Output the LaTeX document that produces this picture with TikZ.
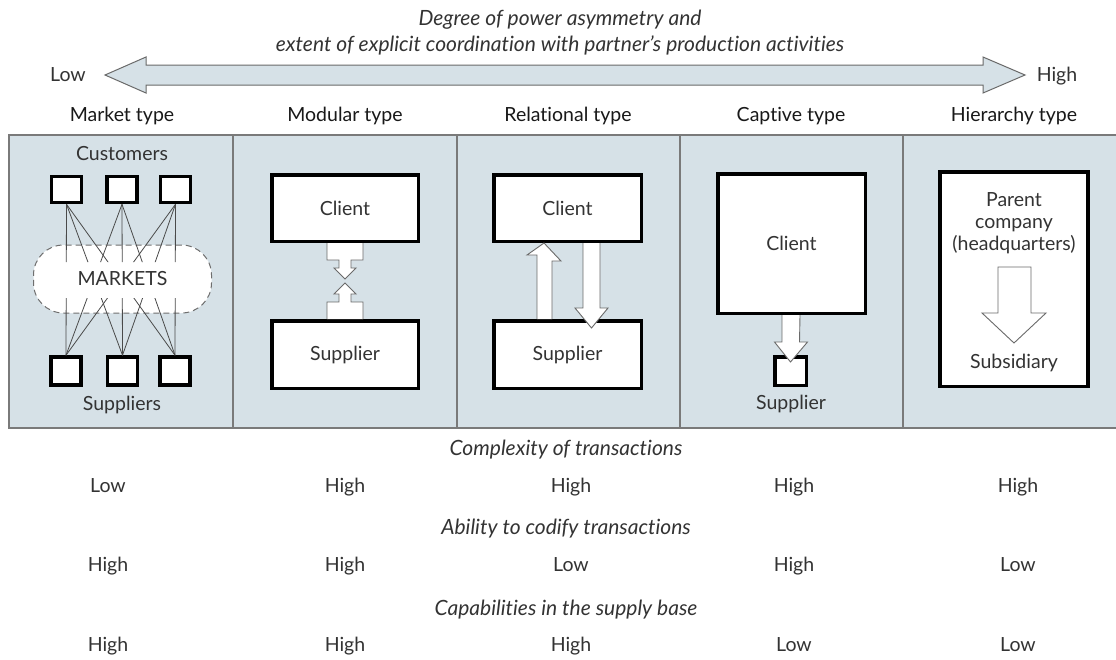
\documentclass[tikz,border=0pt]{standalone}
\usepackage{fontspec}
\setmainfont{Lato}[Ligatures=NoCommon]
\usetikzlibrary{calc}
\definecolor{panelfill}{HTML}{D6E1E7}
\definecolor{divgray}{HTML}{7A7A7A}
\definecolor{arrgray}{HTML}{6A6A6A}
\definecolor{txt}{HTML}{333333}
\definecolor{linegray}{HTML}{4A4A4A}
\begin{document}
\begin{tikzpicture}[x=1pt,y=-1pt,
  panel/.style={fill=panelfill, draw=divgray, line width=1.2pt},
  divider/.style={draw=divgray, line width=1.2pt},
  box/.style={draw=black, line width=3.5pt, fill=white, inner sep=0pt, text=txt,
    font=\fontsize{19.5}{22}\selectfont},
  fat/.style={draw=arrgray, line width=0.9pt, fill=white, line join=miter},
  lbl/.style={text=txt, font=\fontsize{19.5}{22}\selectfont, inner sep=0pt,
    text height=0.72em, text depth=0pt},
  head/.style={text=black!90, font=\fontsize{19.5}{22}\selectfont, inner sep=0pt,
    text height=0.72em, text depth=0pt},
  ital/.style={text=txt, font=\fontsize{21}{24}\selectfont\itshape, inner sep=0pt,
    text height=0.72em, text depth=0pt},
  mline/.style={draw=linegray, line width=0.8pt}]
\useasboundingbox (0,0) rectangle (1116,659);
\fill[white] (0,0) rectangle (1116,659);

% title
\node[ital] (t1) at (560,22) {Degree of power asymmetry and};
\node[ital] (t2) at (560,48) {extent of explicit coordination with partner’s production activities};

% double arrow
\draw[fill=panelfill, draw=arrgray, line width=1pt, line join=miter]
  (105,75) -- (146,57) -- (146,65) -- (983,65) -- (983,57) -- (1025,75)
  -- (983,93) -- (983,85) -- (146,85) -- (146,93) -- cycle;
\node[lbl] (low) at (68,78) {Low};
\node[lbl] (high) at (1057,78) {High};

% headings
\node[head] (h1) at (122,118) {Market type};
\node[head] (h2) at (345,118) {Modular type};
\node[head] (h3) at (568,118) {Relational type};
\node[head] (h4) at (791,118) {Captive type};
\node[head] (h5) at (1014,118) {Hierarchy type};

% panel
\draw[panel] (9,135) rectangle (1125,428);
\foreach \x in {233,457,680,903} \draw[divider] (\x,135) -- (\x,428);

% ---- Market type
\node[lbl] (cust) at (122,157) {Customers};
\node[draw=divgray!90!black, dashed, dash pattern=on 6pt off 4pt, line width=1pt,
  fill=white, rounded corners=30pt, minimum width=178pt, minimum height=68pt,
  text=txt, font=\fontsize{19.5}{22}\selectfont, inner sep=0pt] (mk) at (122.5,279) {MARKETS};
\node[box, minimum width=30pt, minimum height=26pt] (c1) at (66.5,189.5) {};
\node[box, minimum width=30pt, minimum height=26pt] (c2) at (122,189.5) {};
\node[box, minimum width=30pt, minimum height=26pt] (c3) at (175.5,189.5) {};
\node[box, minimum width=30pt, minimum height=28pt] (s1) at (66,371) {};
\node[box, minimum width=30pt, minimum height=28pt] (s2) at (122.5,371) {};
\node[box, minimum width=30pt, minimum height=28pt] (s3) at (175,371) {};
\begin{scope}
  \clip (20,190) rectangle (225,262) (20,298) rectangle (225,380);
  \foreach \i in {1,2,3}{\foreach \j in {1,2,3}{\draw[mline] (c\i.south) -- (s\j.north);}}
\end{scope}
\node[lbl] (supps) at (122,407) {Suppliers};

% ---- Modular type
\node[box, minimum width=146.5pt, minimum height=66.5pt] (mc) at (345,208) {Client};
\node[box, minimum width=146.5pt, minimum height=67.5pt] (ms) at (345,354.5) {Supplier};
\draw[fat] ([xshift=-18pt]mc.south) -- ++(0,17) -- ++(12,0) -- ++(0,8) -- ++(-5,0)
  -- ++(11,11) -- ++(11,-11) -- ++(-5,0) -- ++(0,-8) -- ++(12,0) -- ++(0,-17);
\draw[fat] ([xshift=-18pt]ms.north) -- ++(0,-17) -- ++(12,0) -- ++(0,-8) -- ++(-5,0)
  -- ++(11,-11) -- ++(11,11) -- ++(-5,0) -- ++(0,8) -- ++(12,0) -- ++(0,17);

% ---- Relational type
\node[box, minimum width=147.5pt, minimum height=66.5pt] (rc) at (567.5,208) {Client};
\node[box, minimum width=147.5pt, minimum height=67.5pt] (rs) at (567.5,354.5) {Supplier};
\draw[fat] ([xshift=-30.5pt]rs.north) -- ([xshift=-30.5pt]rc.south |- 0,255) -- ++(-10,0)
  -- ([xshift=-23.5pt]rc.south) -- ++(17,18) -- ++(-9,0) -- ([xshift=-15.5pt]rs.north);
\draw[fat] ([xshift=15.5pt]rc.south) -- ++(0,65) -- ++(-8,0) -- ([xshift=24pt]rs.north |- 0,328)
  -- ++(16.5,-20) -- ++(-8,0) -- ([xshift=32.5pt]rc.south);

% ---- Captive type
\node[box, minimum width=147.5pt, minimum height=139.5pt] (kc) at (791.5,243.5) {Client};
\node[box, minimum width=31.5pt, minimum height=28.5pt] (ks) at (790.5,371) {};
\draw[fat] ([xshift=-9.5pt]kc.south) -- ++(0,27) -- ++(-7.5,0) -- (ks.center |- 0,362)
  -- ++(17,-20) -- ++(-8,0) -- ([xshift=8.5pt]kc.south);
\node[lbl] (kst) at (791,406) {Supplier};

% ---- Hierarchy type
\node[box, minimum width=148pt, minimum height=214.5pt] (hb) at (1014,279) {};
\node[lbl] (par1) at (1014,203) {Parent};
\node[lbl] (par2) at (1014,225) {company};
\node[lbl] (par3) at (1014,247) {(headquarters)};
\node[lbl] (sub) at (1014,365) {Subsidiary};
\draw[fat] (998,267) -- (998,313) -- (982,313) -- (1014,343) -- (1046,313) -- (1031,313) -- (1031,267) -- cycle;

% ---- bottom rows
\node[ital] (r1) at (566,452) {Complexity of transactions};
\node[ital] (r2) at (566,531) {Ability to codify transactions};
\node[ital] (r3) at (566,612) {Capabilities in the supply base};
\foreach \v [count=\k] in {Low,High,High,High,High}
  {\pgfmathsetmacro\xx{{108,345,571,794,1018}[\k-1]}
   \node[lbl] (a\k) at (\xx,489) {\v};}
\foreach \v [count=\k] in {High,High,Low,High,Low}
  {\pgfmathsetmacro\xx{{108,345,571,794,1018}[\k-1]}
   \node[lbl] (b\k) at (\xx,568) {\v};}
\foreach \v [count=\k] in {High,High,High,Low,Low}
  {\pgfmathsetmacro\xx{{108,345,571,794,1018}[\k-1]}
   \node[lbl] (d\k) at (\xx,648) {\v};}
\end{tikzpicture}
\end{document}
